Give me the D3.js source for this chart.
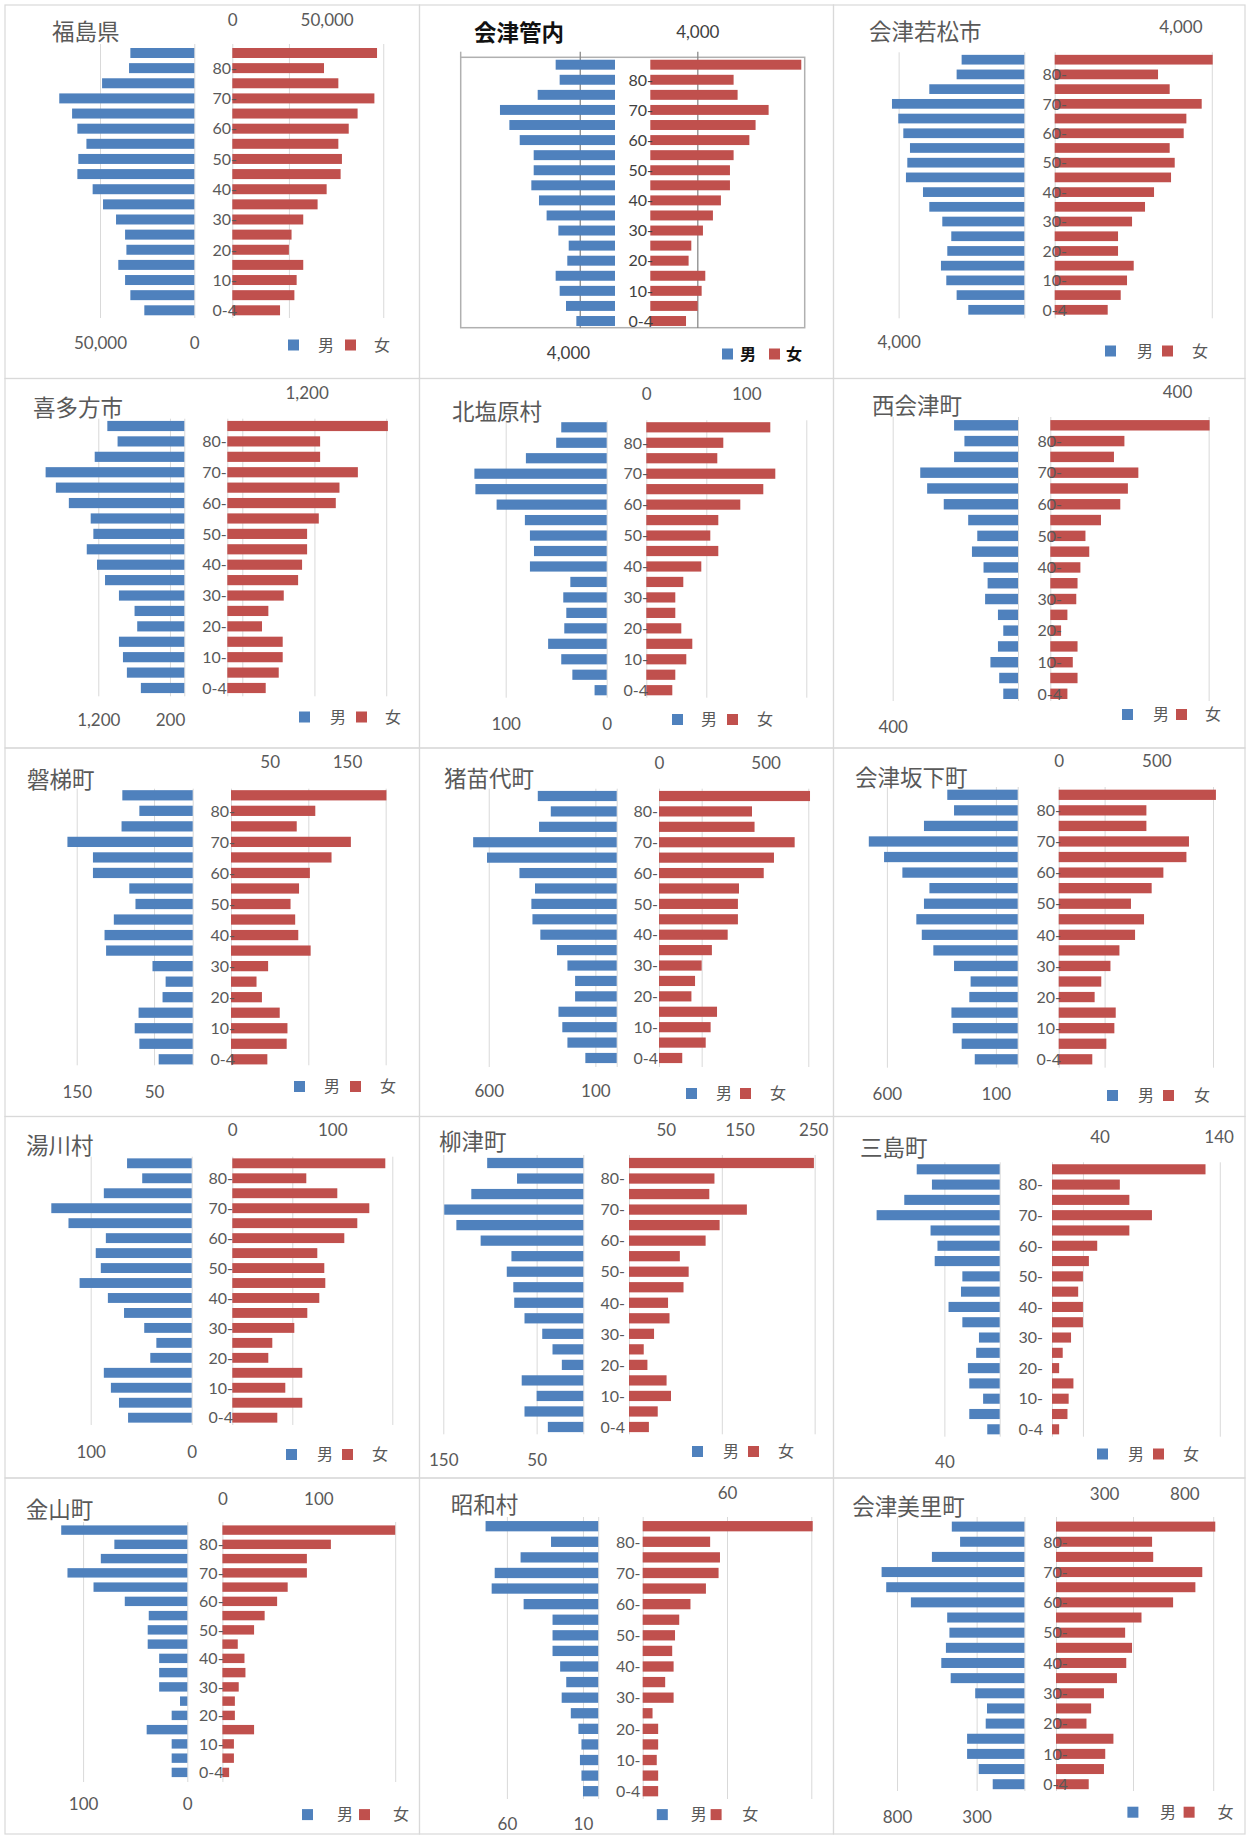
<!DOCTYPE html>
<html><head><meta charset="utf-8">
<script src="https://cdn.jsdelivr.net/npm/d3@7"></script>
<style>body{margin:0;background:#fff}svg{display:block}</style>
</head><body>
<svg id="c" width="1248" height="1836"></svg>
<script>
// ---------- categories ----------
const ageGroups = ["85-","80-","75-","70-","65-","60-","55-","50-","45-","40-","35-","30-","25-","20-","15-","10-","5-","0-4"];
const shownAges = ["80-","70-","60-","50-","40-","30-","20-","10-","0-4"];
const regionNames = ["福島県","会津管内","会津若松市","喜多方市","北塩原村","西会津町","磐梯町","猪苗代町","会津坂下町","湯川村","柳津町","三島町","金山町","昭和村","会津美里町"];
const legendNames = ["男","女"];

// ---------- series values (top row = 85-, bottom row = 0-4) ----------
const maleFukushima   = [33900,34600,48900,71600,64800,62000,57200,61500,62000,53900,48400,41500,36700,36000,40300,36700,33900,26500];
const femaleFukushima = [76700,48600,56200,75300,66400,61700,56200,58100,57400,50000,45200,37600,31400,30000,37600,34100,32900,25300];
const maleAizu   = [5050,4710,6580,9790,8990,8110,6920,6920,7120,6470,5820,4820,3940,4060,5050,4710,4170,3290];
const femaleAizu = [12850,7090,7430,10070,8960,8430,7090,6780,6780,6010,5330,4480,3490,3260,4680,4370,4030,3040];
const maleWakamatsu   = [1995,2154,3024,4212,4011,3851,3639,3724,3767,3225,3024,2610,2324,2451,2653,2483,2154,1783];
const femaleWakamatsu = [5029,3289,3660,4679,4191,4106,3660,3820,3703,3162,2875,2462,2016,2016,2515,2302,2101,1687];
const maleKitakata   = [1074,931,1250,1935,1792,1611,1306,1269,1361,1218,1106,912,694,657,912,856,801,606];
const femaleKitakata = [2429,1404,1404,1975,1697,1641,1384,1207,1207,1131,1071,854,621,525,838,838,778,581];
const maleKitashiobara   = [45,50,80,131,130,109,81,76,72,76,36,43,40,42,58,45,34,12];
const femaleKitashiobara = [124,77,71,129,117,94,72,64,72,55,37,29,29,35,46,40,29,26];
const maleNishiaizu   = [204,171,204,312,290,237,159,130,147,110,97,105,64,47,64,88,60,47];
const femaleNishiaizu = [503,234,201,278,245,221,160,111,123,95,86,82,54,34,86,71,86,54];
const maleBandai   = [91,69,92,162,129,129,82,74,102,114,112,52,35,39,70,75,69,44];
const femaleBandai = [201,109,85,155,130,102,88,77,83,87,103,48,33,40,63,73,72,47];
const maleInawashiro   = [370,309,364,673,608,456,383,400,395,358,280,231,195,195,273,255,231,147];
const femaleInawashiro = [708,436,448,636,539,491,375,370,370,322,248,200,169,152,272,242,219,109];
const maleBange   = [323,292,430,683,613,529,405,430,465,440,387,292,216,222,304,298,257,197];
const femaleBange = [805,449,449,667,654,536,476,370,437,391,311,265,218,184,292,285,244,172];
const maleYugawa   = [64,49,87,139,122,85,95,90,111,83,67,47,35,41,87,80,72,63];
const femaleYugawa = [153,74,105,137,125,112,85,92,93,87,75,62,40,36,70,53,70,45];
const maleYanaizu   = [103,71,120,149,136,110,77,82,75,74,63,44,33,23,66,50,63,38];
const femaleYanaizu = [251,116,109,160,123,104,69,81,74,53,55,34,20,25,51,57,39,27];
const maleMishima   = [60,49,69,89,50,45,47,27,28,37,27,15,17,23,22,12,22,9];
const femaleMishima = [129,57,65,84,65,38,31,26,22,26,26,16,9,6,18,14,13,6];
const maleKaneyama   = [121,70,83,115,90,60,37,38,38,27,27,27,7,15,39,15,15,15];
const femaleKaneyama = [180,113,88,88,68,57,44,33,16,23,24,17,13,13,33,12,12,7];
const maleShowa   = [74,31,51,68,70,49,30,30,30,25,21,24,18,13,11,12,11,10];
const femaleShowa = [121,48,55,54,45,34,26,23,21,22,16,22,7,11,11,10,11,11];
const maleMisato   = [456,404,581,897,868,713,485,471,493,522,463,309,235,243,360,360,287,199];
const femaleMisato = [993,599,606,912,869,730,533,431,474,438,380,299,219,190,358,307,299,204];

// ---------- tick labels & gridline values ----------
const femaleTickLabels = [[0,50000],[4000],[4000],[1200],[0,100],[400],[50,150],[0,500],[0,500],[0,100],[50,150,250],[40,140],[0,100],[60],[300,800]];
const maleTickLabels   = [[50000,0],[4000],[4000],[1200,200],[100,0],[400],[150,50],[600,100],[600,100],[100,0],[150,50],[40],[100,0],[60,10],[800,300]];
const maleGridValues   = [[0,50000],[3000],[0,4000],[0,200,1200],[0,100],[0,400],[0,50,150],[0,100,600],[0,100,600],[0,100],[0,50,150],[0,40],[0,100],[0,10,60],[0,300,800]];
const femaleGridValues = [[0,30000,80000],[4000],[0,5000],[0,227,1318,2404],[0,60,160],[0,500],[0,100,200],[0,200,700],[0,235,790],[0,60,160],[0,126,252],[0,26,141],[0,180],[0,60,120],[0,480,980]];

const maleSeries   = [maleFukushima,maleAizu,maleWakamatsu,maleKitakata,maleKitashiobara,maleNishiaizu,maleBandai,maleInawashiro,maleBange,maleYugawa,maleYanaizu,maleMishima,maleKaneyama,maleShowa,maleMisato];
const femaleSeries = [femaleFukushima,femaleAizu,femaleWakamatsu,femaleKitakata,femaleKitashiobara,femaleNishiaizu,femaleBandai,femaleInawashiro,femaleBange,femaleYugawa,femaleYanaizu,femaleMishima,femaleKaneyama,femaleShowa,femaleMisato];

// ---------- layout (panel-local pixels) ----------
const layouts = [
 {mZero:194.3,mK:0.001886,fZero:232.3,fK:0.001887,barTop:53,barBot:310.3,gTop:44,gBot:318,topY:19.5,botY:343,ageX:237,tx:52,ty:32,legY:345,leg:[288,318,345,374]},
 {mZero:197,mK:0.01175,fZero:232.3,fK:0.01175,barTop:64.7,barBot:321,gTop:51.7,gBot:328,topY:32.3,botY:353,ageX:235,tx:56,ty:33,legY:354,leg:[304,322,351,368],frame:[42.7,57.3,386.7,327.7],dark:true},
 {mZero:192.3,mK:0.031417,fZero:222.7,fK:0.031417,barTop:59.7,barBot:309.8,gTop:52.3,gBot:318.3,topY:26.7,botY:342,ageX:235,tx:37,ty:32,legY:351,leg:[273,305,330,360]},
 {mZero:184.3,mK:0.07167,fZero:227.3,fK:0.06611,barTop:49,barBot:311,gTop:41.7,gBot:319.3,topY:16,botY:343,ageX:226.7,tx:33,ty:31,legY:340,leg:[299,330,356,385]},
 {mZero:188.7,mK:1.01,fZero:228.3,fK:1.0,barTop:50.3,barBot:313.2,gTop:43.3,gBot:320.7,topY:17.3,botY:347,ageX:230,tx:34,ty:35,legY:342.5,leg:[254,283,309,339]},
 {mZero:186,mK:0.3133,fZero:218.3,fK:0.3167,barTop:48.3,barBot:316.8,gTop:40,gBot:324,topY:15,botY:350,ageX:230,tx:40,ty:29,legY:337.5,leg:[290,321,344,373]},
 {mZero:192.7,mK:0.7733,fZero:231,fK:0.7733,barTop:48.3,barBot:312.3,gTop:41.7,gBot:318.3,topY:15,botY:345,ageX:235,tx:27,ty:33,legY:339.5,leg:[294,324,350,380]},
 {mZero:198.7,mK:0.2133,fZero:241,fK:0.2133,barTop:49,barBot:311,gTop:41.7,gBot:320,topY:16,botY:344,ageX:240,tx:26,ty:32,legY:346.5,leg:[268,298,322,352]},
 {mZero:185.7,mK:0.218,fZero:226.7,fK:0.1953,barTop:47.8,barBot:312.3,gTop:40,gBot:320.7,topY:14,botY:347,ageX:229,tx:23,ty:31,legY:348.5,leg:[275,306,331,362]},
 {mZero:191.7,mK:1.01,fZero:232.3,fK:1.0,barTop:48.3,barBot:302.7,gTop:41.7,gBot:310,topY:15,botY:337,ageX:233,tx:26,ty:31,legY:339.5,leg:[286,317,342,372]},
 {mZero:165.3,mK:0.9333,fZero:211,fK:0.7367,barTop:48,barBot:312,gTop:40,gBot:319.3,topY:15,botY:345,ageX:207,tx:21,ty:27,legY:336.5,leg:[274,305,330,360]},
 {mZero:167.7,mK:1.383,fZero:220,fK:1.19,barTop:54.3,barBot:314.3,gTop:47.3,gBot:321.7,topY:21.7,botY:347,ageX:211,tx:28,ty:33,legY:339,leg:[265,296,321,351]},
 {mZero:187.3,mK:1.042,fZero:222.4,fK:0.96,barTop:51.1,barBot:293.4,gTop:43,gBot:303,topY:19.5,botY:325,ageX:223.6,tx:25.8,ty:31,legY:335.6,leg:[302,337,359,393]},
 {mZero:180.2,mK:1.522,fZero:224.7,fK:1.405,barTop:47.2,barBot:312.2,gTop:38,gBot:320,topY:13.6,botY:345,ageX:222.4,tx:32.7,ty:25.4,legY:335.6,leg:[238.8,272.7,292.6,324.2]},
 {mZero:192.4,mK:0.1592,fZero:224,fK:0.1604,barTop:47.6,barBot:305.2,gTop:38,gBot:312,topY:14.8,botY:338,ageX:235.7,tx:20.3,ty:27.7,legY:333.2,leg:[295.4,328.1,351.6,385.5]}
];
const originX = [0,418,832];
const originY = [0,377,747,1115,1479];
const borderX = [5,419.5,833.5,1245];
const borderY = [5,378.5,748,1116.5,1478,1834];

const MALE = "#4F81BD", FEMALE = "#C0504D", TXT = "#595959", GRID = "#d9d9d9";
const numFont = "Lato, 'Open Sans', sans-serif";
const cjkFont = "'Noto Sans CJK JP', sans-serif";
const fmt = d3.format(",");

const svg = d3.select("#c");
svg.append("rect").attr("width",1248).attr("height",1836).attr("fill","#fff");

// panel borders
for (let r = 0; r < 5; r++) for (let c = 0; c < 3; c++) {
  svg.append("rect").attr("x",borderX[c]).attr("y",borderY[r])
    .attr("width",borderX[c+1]-borderX[c]).attr("height",borderY[r+1]-borderY[r])
    .attr("fill","none").attr("stroke","#d9d9d9").attr("stroke-width",1.2);
}

regionNames.forEach((name, i) => {
  const L = layouts[i];
  const c = i % 3, r = Math.floor(i / 3);
  const g = svg.append("g").attr("transform", `translate(${originX[c]},${originY[r]})`);
  const males = maleSeries[i].map((v, j) => ({age: ageGroups[j], v}));
  const females = femaleSeries[i].map((v, j) => ({age: ageGroups[j], v}));
  const maxM = d3.max(males, d => d.v), maxF = d3.max(females, d => d.v);
  const xM = d3.scaleLinear().domain([0, maxM]).range([L.mZero, L.mZero - L.mK * maxM]);
  const xF = d3.scaleLinear().domain([0, maxF]).range([L.fZero, L.fZero + L.fK * maxF]);
  const step = (L.barBot - L.barTop) / (ageGroups.length - 1);
  const y = d3.scaleBand().domain(ageGroups)
    .range([L.barTop - step / 2, L.barBot + step / 2])
    .paddingInner(0.34).paddingOuter(0.17);

  const gridColor = L.dark ? "#8a8a8a" : GRID;
  const txtColor = L.dark ? "#404040" : TXT;

  // frame (only 会津管内)
  if (L.frame) {
    const [x0, y0, x1, y1] = L.frame;
    g.append("rect").attr("x", x0).attr("y", y0).attr("width", x1 - x0).attr("height", y1 - y0)
      .attr("fill", "none").attr("stroke", "#b0b0b0").attr("stroke-width", 1.5);
    g.append("line").attr("x1", x0).attr("x2", x0).attr("y1", L.gTop).attr("y2", y0)
      .attr("stroke", "#b0b0b0").attr("stroke-width", 1.5);
  }

  // gridlines
  [[xM, maleGridValues[i]], [xF, femaleGridValues[i]]].forEach(([sc, vals]) => {
    g.append("g").attr("transform", `translate(0,${L.gTop})`)
      .call(d3.axisBottom(sc).tickValues(vals).tickSize(L.gBot - L.gTop).tickFormat(""))
      .call(a => a.select(".domain").remove())
      .call(a => a.selectAll("line").attr("stroke", gridColor).attr("stroke-width", L.dark ? 1.3 : 1));
  });

  // bars
  g.append("g").selectAll("rect").data(males).join("rect")
    .attr("x", d => xM(d.v)).attr("y", d => y(d.age))
    .attr("width", d => L.mZero - xM(d.v)).attr("height", y.bandwidth())
    .attr("fill", MALE);
  g.append("g").selectAll("rect").data(females).join("rect")
    .attr("x", L.fZero).attr("y", d => y(d.age))
    .attr("width", d => xF(d.v) - L.fZero).attr("height", y.bandwidth())
    .attr("fill", FEMALE);

  // value tick labels
  const styleTicks = a => {
    a.select(".domain").remove();
    a.attr("font-family", numFont).attr("font-size", 17);
    a.selectAll("text").attr("y", 0).attr("dy", "0.36em").attr("fill", txtColor);
  };
  g.append("g").attr("transform", `translate(0,${L.topY})`)
    .call(d3.axisTop(xF).tickValues(femaleTickLabels[i]).tickFormat(fmt).tickSize(0).tickPadding(0))
    .call(styleTicks);
  g.append("g").attr("transform", `translate(0,${L.botY})`)
    .call(d3.axisBottom(xM).tickValues(maleTickLabels[i]).tickFormat(fmt).tickSize(0).tickPadding(0))
    .call(styleTicks);

  // age labels
  g.append("g").attr("transform", `translate(${L.ageX},0)`)
    .call(d3.axisLeft(y).tickValues(shownAges).tickSize(0).tickPadding(0))
    .call(a => {
      a.select(".domain").remove();
      a.attr("font-family", numFont).attr("font-size", 16);
      a.selectAll("text").attr("fill", txtColor).attr("dy", "0.36em");
    });

  // title
  g.append("text").attr("x", L.tx).attr("y", L.ty).attr("dy", "0.36em")
    .attr("font-family", cjkFont).attr("font-size", 22.5)
    .attr("font-weight", L.dark ? 700 : 400)
    .attr("fill", L.dark ? "#111" : TXT).text(name);

  // legend
  const lg = g.append("g");
  [[MALE, legendNames[0], 0], [FEMALE, legendNames[1], 2]].forEach(([col, lab, k]) => {
    lg.append("rect").attr("x", L.leg[k]).attr("y", L.legY - 5.5).attr("width", 11).attr("height", 11).attr("fill", col);
    lg.append("text").attr("x", L.leg[k + 1]).attr("y", L.legY).attr("dy", "0.36em")
      .attr("font-family", cjkFont).attr("font-size", 16)
      .attr("font-weight", L.dark ? 700 : 400)
      .attr("fill", L.dark ? "#111" : TXT).text(lab);
  });
});
</script>
</body></html>
